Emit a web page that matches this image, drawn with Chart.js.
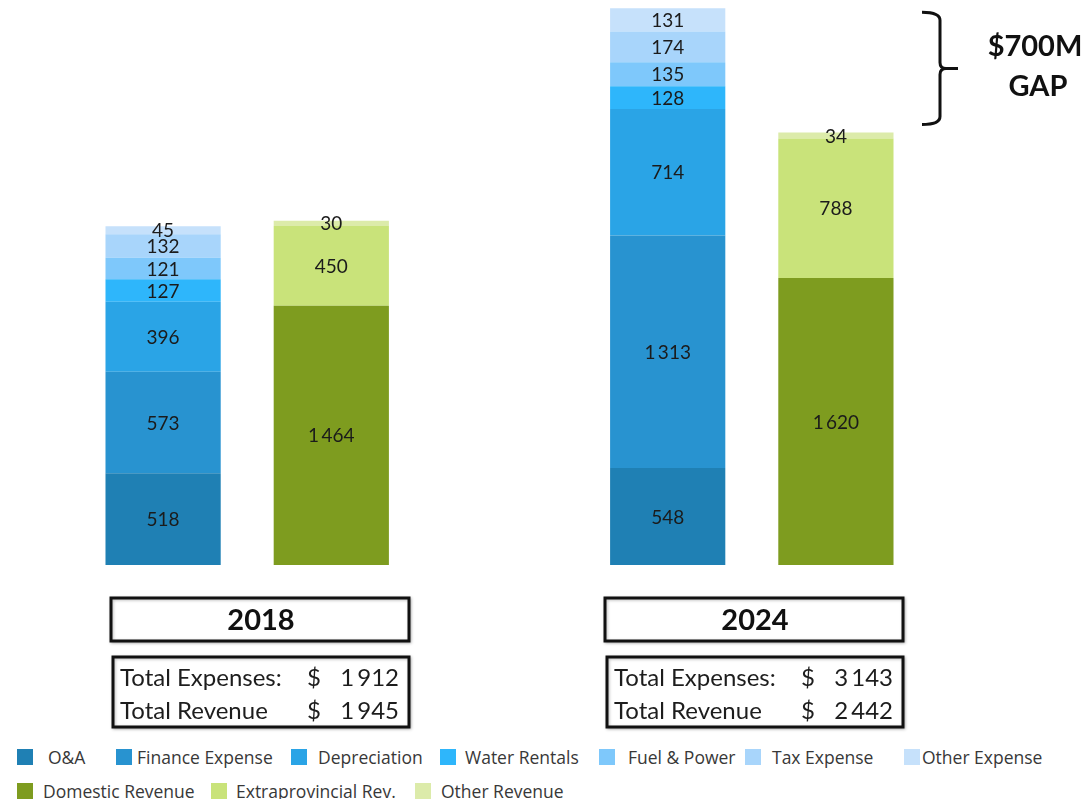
<!DOCTYPE html>
<html>
<head>
<meta charset="utf-8">
<script src="https://cdn.jsdelivr.net/npm/chart.js@4/dist/chart.umd.min.js"></script>
<style>
  html, body { margin: 0; padding: 0; background: #fff; }
  #wrap { position: relative; width: 1091px; height: 799px; overflow: hidden; }
  #chart { position: absolute; left: 0; top: 0; }
  .lg { position: absolute; font-family: 'Open Sans', sans-serif; font-size: 17.5px; color: #383838; white-space: nowrap; line-height: 18px; }
  .lg i { position: absolute; left: 0; top: 1px; width: 16px; height: 16px; }
  .lg span { position: absolute; top: 0; }
</style>
</head>
<body>
<div id="wrap">
  <canvas id="chart" width="1091" height="740"></canvas>
  <div id="legend"></div>
</div>
<script>
const categories = ['2018 Expenses', '2018 Revenue', '', '2024 Expenses', '2024 Revenue'];
const years = ['2018', '2024'];

const expenseNames = ['O&A', 'Finance Expense', 'Depreciation', 'Water Rentals', 'Fuel & Power', 'Tax Expense', 'Other Expense'];
const expense2018 = [518, 573, 396, 127, 121, 132, 45];
const expense2024 = [548, 1313, 714, 128, 135, 174, 131];
const expenseColors = ['#1f80b4', '#2893d0', '#2aa4e6', '#2eb6fb', '#7ec8fb', '#a8d5fb', '#c6e1fb'];

const revenueNames = ['Domestic Revenue', 'Extraprovincial Rev.', 'Other Revenue'];
const revenue2018 = [1464, 450, 30];
const revenue2024 = [1620, 788, 34];
const revenueColors = ['#7e9c1f', '#c9e37a', '#dcebaa'];

// totals as printed (rounded in the source)
const totalExpenses = [1912, 3143];
const totalRevenue = [1945, 2442];

const gapLabel = ['$700M', 'GAP'];

function fmt(v) {
  return String(v).replace(/\B(?=(\d{3})+(?!\d))/g, '\u2009');
}

const datasets = [];
expenseNames.forEach((name, i) => {
  datasets.push({
    label: name,
    data: [expense2018[i], null, null, expense2024[i], null],
    backgroundColor: expenseColors[i]
  });
});
revenueNames.forEach((name, i) => {
  datasets.push({
    label: name,
    data: [null, revenue2018[i], null, null, revenue2024[i]],
    backgroundColor: revenueColors[i]
  });
});

// left edge of each year's box group
const boxLefts = [111, 605];

const valueLabels = {
  id: 'valueLabels',
  afterDatasetsDraw(chart) {
    const ctx = chart.ctx;
    ctx.save();
    ctx.font = '19px Lato, "Open Sans", sans-serif';
    ctx.fillStyle = '#1b1b1b';
    ctx.textAlign = 'center';
    ctx.textBaseline = 'middle';
    chart.data.datasets.forEach((ds, di) => {
      chart.getDatasetMeta(di).data.forEach((bar, i) => {
        const v = ds.data[i];
        if (v == null) return;
        ctx.fillText(fmt(v), bar.x, (bar.y + bar.base) / 2 + 1);
      });
    });
    ctx.restore();
  }
};

const extras = {
  id: 'extras',
  afterDraw(chart) {
    const ctx = chart.ctx;
    const y = chart.scales.y;
    ctx.save();

    years.forEach((year, k) => {
      const left = boxLefts[k];
      ctx.lineWidth = 3;
      ctx.strokeStyle = '#111';
      ctx.fillStyle = '#fff';
      ctx.shadowColor = 'rgba(0,0,0,0.25)';
      ctx.shadowBlur = 3;
      ctx.shadowOffsetX = 1;
      ctx.shadowOffsetY = 1;
      ctx.fillRect(left, 598, 298, 43);
      ctx.strokeRect(left, 598, 298, 43);
      ctx.fillRect(left + 2, 657, 296, 70);
      ctx.strokeRect(left + 2, 657, 296, 70);
      ctx.shadowColor = 'transparent';

      ctx.fillStyle = '#111';
      ctx.font = 'bold 29px Lato, "Open Sans", sans-serif';
      ctx.textAlign = 'center';
      ctx.textBaseline = 'middle';
      ctx.fillText(year, left + 150, 621);

      ctx.font = '24px Lato, "Open Sans", sans-serif';
      ctx.fillStyle = '#1d1d1d';
      ctx.textAlign = 'left';
      ctx.fillText('Total Expenses:', left + 9, 678);
      ctx.fillText('Total Revenue', left + 9, 711);
      ctx.fillText('$', left + 196, 678);
      ctx.fillText('$', left + 196, 711);
      ctx.textAlign = 'right';
      ctx.fillText(fmt(totalExpenses[k]), left + 288, 678);
      ctx.fillText(fmt(totalRevenue[k]), left + 288, 711);
    });

    // bracket showing the 2024 gap
    const top = y.getPixelForValue(totalExpenses[1]) + 4;
    const bot = y.getPixelForValue(totalRevenue[1]) - 8;
    const mid = (top + bot) / 2;
    const bx = 940;
    ctx.strokeStyle = '#111';
    ctx.lineWidth = 3;
    ctx.beginPath();
    ctx.moveTo(922, top);
    ctx.quadraticCurveTo(bx, top, bx, top + 8);
    ctx.lineTo(bx, mid - 6);
    ctx.quadraticCurveTo(bx, mid, bx + 6, mid);
    ctx.lineTo(958, mid);
    ctx.moveTo(bx + 6, mid);
    ctx.quadraticCurveTo(bx, mid, bx, mid + 6);
    ctx.lineTo(bx, bot - 8);
    ctx.quadraticCurveTo(bx, bot, 922, bot);
    ctx.stroke();

    ctx.fillStyle = '#111';
    ctx.font = 'bold 29px Lato, "Open Sans", sans-serif';
    ctx.textAlign = 'center';
    ctx.textBaseline = 'middle';
    ctx.fillText(gapLabel[0], 1035, 47);
    ctx.fillText(gapLabel[1], 1038, 87);
    ctx.restore();
  }
};

new Chart(document.getElementById('chart'), {
  type: 'bar',
  data: { labels: categories, datasets },
  options: {
    responsive: false,
    animation: false,
    layout: { padding: { left: 79, right: 171, top: 8, bottom: 175 } },
    datasets: { bar: { categoryPercentage: 1, barPercentage: 0.685, skipNull: false } },
    scales: {
      x: { stacked: true, display: false },
      y: { stacked: true, display: false, min: 0, max: 3145 }
    },
    plugins: {
      legend: { display: false },
      tooltip: { enabled: false }
    }
  },
  plugins: [valueLabels, extras]
});

// legend, two rows: expenses then revenue
const legendRows = [
  { top: 748, names: expenseNames, colors: expenseColors, lefts: [17, 116, 291, 440, 599, 745, 904], gaps: [31, 21, 27, 25, 29, 27, 18] },
  { top: 782, names: revenueNames, colors: revenueColors, lefts: [17, 211, 415], gaps: [26, 25, 26] }
];
const legendEl = document.getElementById('legend');
legendRows.forEach((row) => {
  row.names.forEach((name, i) => {
    const d = document.createElement('div');
    d.className = 'lg';
    d.style.left = row.lefts[i] + 'px';
    d.style.top = row.top + 'px';
    const sw = document.createElement('i');
    sw.style.background = row.colors[i];
    const t = document.createElement('span');
    t.style.left = row.gaps[i] + 'px';
    t.textContent = name;
    d.appendChild(sw);
    d.appendChild(t);
    legendEl.appendChild(d);
  });
});
</script>
</body>
</html>
